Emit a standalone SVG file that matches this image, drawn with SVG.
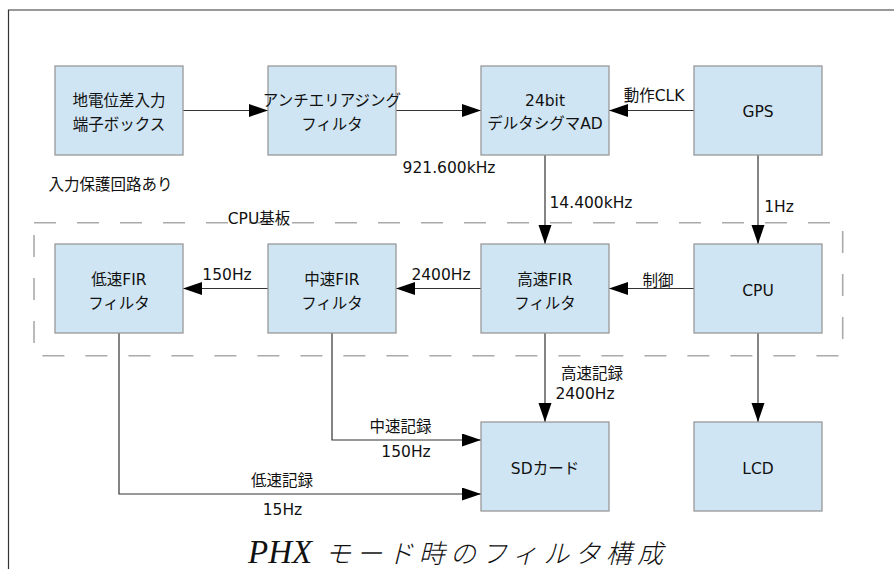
<svg xmlns="http://www.w3.org/2000/svg" width="894" height="569" viewBox="0 0 894 569">
<style>
.box{fill:#cfe5f3;stroke:#999;stroke-width:1.3}
.t{font-family:"DejaVu Sans","Noto Sans CJK JP",sans-serif;font-size:15.5px;fill:#111;text-anchor:middle}
.c{fill:none;stroke:#333;stroke-width:1.2}
.frame{fill:none;stroke:#333;stroke-width:1.2}
.board{fill:none;stroke:#aaa;stroke-width:1.6;stroke-dasharray:22 21}
.cap{font-family:"Liberation Serif","Noto Sans CJK JP",serif;font-style:italic;fill:#111}
</style>
<defs>
<marker id="ah" markerUnits="userSpaceOnUse" markerWidth="20" markerHeight="14" refX="19" refY="6.5" orient="auto">
<path d="M0,0 L19,6.5 L0,13 z" fill="#000"/>
</marker>
</defs>
<rect width="894" height="569" fill="#fff"/>
<path class="frame" d="M8.5,569 V10 H894"/>
<g id="cpu-board">
<rect class="board" x="34" y="222.7" width="808.7" height="133"/>
<text class="t" x="259" y="223.5">CPU基板</text>
</g>
<g id="connectors">
<path class="c" d="M183,110.5 H268" marker-end="url(#ah)"/>
<path class="c" d="M396,110.5 H481" marker-end="url(#ah)"/>
<path class="c" d="M694,110.5 H609" marker-end="url(#ah)"/>
<path class="c" d="M545,155 V244" marker-end="url(#ah)"/>
<path class="c" d="M758,155 V244" marker-end="url(#ah)"/>
<path class="c" d="M694,288.5 H609" marker-end="url(#ah)"/>
<path class="c" d="M481,288.5 H396" marker-end="url(#ah)"/>
<path class="c" d="M268,288.5 H183" marker-end="url(#ah)"/>
<path class="c" d="M545,333 V422" marker-end="url(#ah)"/>
<path class="c" d="M758,333 V422" marker-end="url(#ah)"/>
<path class="c" d="M332,333 V440 H481" marker-end="url(#ah)"/>
<path class="c" d="M119,333 V494 H481" marker-end="url(#ah)"/>
<text class="t" x="449" y="172.5">921.600kHz</text>
<text class="t" x="591" y="208">14.400kHz</text>
<text class="t" x="779" y="211.5">1Hz</text>
<text class="t" x="654" y="100.5">動作CLK</text>
<text class="t" x="227" y="280">150Hz</text>
<text class="t" x="441" y="280">2400Hz</text>
<text class="t" x="658" y="285.5">制御</text>
<text class="t" x="592" y="379">高速記録</text>
<text class="t" x="585" y="399">2400Hz</text>
<text class="t" x="400.5" y="432">中速記録</text>
<text class="t" x="406" y="457">150Hz</text>
<text class="t" x="282" y="486">低速記録</text>
<text class="t" x="282.5" y="515">15Hz</text>
</g>
<g id="input-box">
<rect class="box" x="55" y="66" width="128" height="89"/>
<text class="t" x="119" y="106">地電位差入力</text>
<text class="t" x="119" y="130">端子ボックス</text>
</g>
<g id="input-note">
<text class="t" x="110.5" y="190">入力保護回路あり</text>
</g>
<g id="aa-filter">
<rect class="box" x="268" y="66" width="128" height="89"/>
<text class="t" x="332" y="106">アンチエリアジング</text>
<text class="t" x="332" y="130">フィルタ</text>
</g>
<g id="adc">
<rect class="box" x="481" y="66" width="128" height="89"/>
<text class="t" x="545" y="105.5">24bit</text>
<text class="t" x="545" y="129">デルタシグマAD</text>
</g>
<g id="gps">
<rect class="box" x="694" y="66" width="128" height="89"/>
<text class="t" x="758" y="117">GPS</text>
</g>
<g id="low-fir">
<rect class="box" x="55" y="244" width="128" height="89"/>
<text class="t" x="119" y="285">低速FIR</text>
<text class="t" x="119" y="309">フィルタ</text>
</g>
<g id="mid-fir">
<rect class="box" x="268" y="244" width="128" height="89"/>
<text class="t" x="332" y="285">中速FIR</text>
<text class="t" x="332" y="309">フィルタ</text>
</g>
<g id="high-fir">
<rect class="box" x="481" y="244" width="128" height="89"/>
<text class="t" x="545" y="285">高速FIR</text>
<text class="t" x="545" y="309">フィルタ</text>
</g>
<g id="cpu">
<rect class="box" x="694" y="244" width="128" height="89"/>
<text class="t" x="758" y="295.5">CPU</text>
</g>
<g id="sd">
<rect class="box" x="481" y="422" width="128" height="89"/>
<text class="t" x="545" y="474">SDカード</text>
</g>
<g id="lcd">
<rect class="box" x="694" y="422" width="128" height="89"/>
<text class="t" x="758" y="474">LCD</text>
</g>
<g id="caption">
<text class="cap" x="248" y="563"><tspan font-size="33">PHX</tspan><tspan x="325" font-size="26" font-weight="300" textLength="338" lengthAdjust="spacing">モード時のフィルタ構成</tspan></text>
</g>
</svg>
